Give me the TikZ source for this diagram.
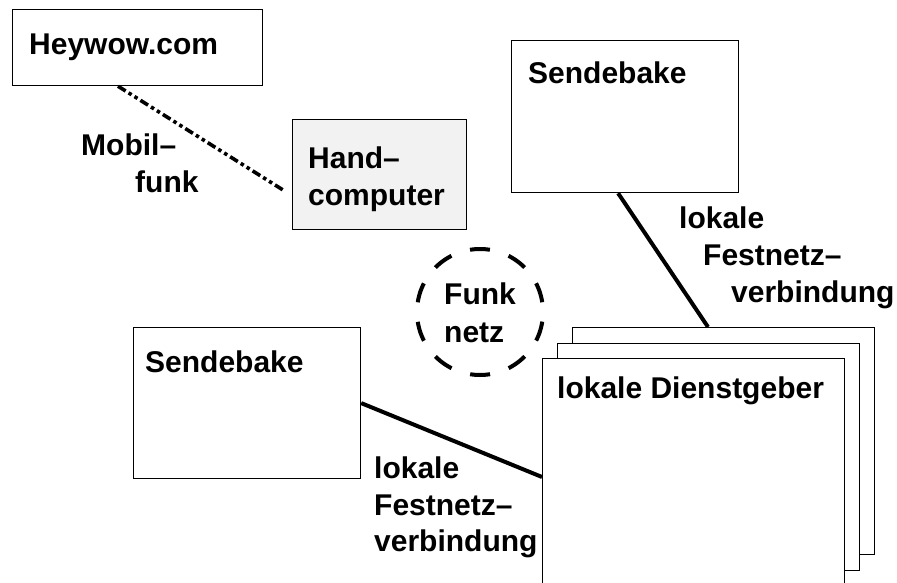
\documentclass[tikz,border=0pt]{standalone}
\usepackage{fontspec}
\setmainfont{Liberation Sans}
\usetikzlibrary{calc}
\begin{document}
\begin{tikzpicture}[x=1pt,y=-1pt,
  box/.style={draw=black, line width=1.2pt, fill=white, anchor=north west, inner sep=0pt},
  lbl/.style={font=\fontsize{30}{37}\selectfont\bfseries, anchor=base west, inner sep=0pt},
  wire/.style={line width=4pt},
  mobilline/.style={line width=3.6pt, dash pattern=on 9pt off 3.5pt on 3.5pt off 3.5pt on 3.5pt off 3.5pt},
  funkring/.style={circle, draw, line width=4pt, minimum size=126pt, inner sep=0pt,
                   dash pattern=on 20pt off 19.6pt, dash phase=29.8pt}]
\useasboundingbox (0,0) rectangle (897,583);

% boxes
\node[box, minimum width=250pt, minimum height=76pt] (hey) at (12,9) {};
\node[box, minimum width=174pt, minimum height=110pt, fill=gray!10] (hand) at (292,119) {};
\node[box, minimum width=227pt, minimum height=152pt] (stop) at (511,40) {};
\node[box, minimum width=227pt, minimum height=151pt] (sleft) at (133,327) {};

% stack of local service providers
\node[box, minimum width=302pt, minimum height=227pt] (back) at (572,327) {};
\node[box, minimum width=302pt, minimum height=227pt] (mid) at (557,343) {};
\node[box, minimum width=302pt, minimum height=227pt] (front) at (542,358) {};

% radio network
\node[funkring] (funk) at (480,312) {};

% connectors
\draw[mobilline] ($(hey.south west)+(106,0)$) -- ($(hand.west)+(-8,16)$);
\draw[wire] ($(stop.south)+(-7,0)$) -- ($(back.north west)+(136,0)$);
\draw[wire] (sleft.east) -- ($(front.north west)+(0,119)$);

% texts
\node[lbl] (heyT) at (29,55) {Heywow.com};
\node[lbl] (mob1) at (81,156) {Mobil–};
\node[lbl] (mob2) at (135,193) {funk};
\node[lbl] (hand1) at (308,168) {Hand–};
\node[lbl] (hand2) at (308,205) {computer};
\node[lbl] (stopT) at (528,84) {Sendebake};
\node[lbl] (tl1) at (679,228) {lokale};
\node[lbl] (tl2) at (703,265) {Festnetz–};
\node[lbl] (tl3) at (731,302) {verbindung};
\node[lbl] (fk1) at (444,304) {Funk};
\node[lbl] (fk2) at (444,342) {netz};
\node[lbl] (slT) at (145,372) {Sendebake};
\node[lbl] (ll1) at (374,478) {lokale};
\node[lbl] (ll2) at (374,515) {Festnetz–};
\node[lbl] (ll3) at (374,551) {verbindung};
\node[lbl] (dg) at (557,398) {lokale Dienstgeber};
\end{tikzpicture}
\end{document}
